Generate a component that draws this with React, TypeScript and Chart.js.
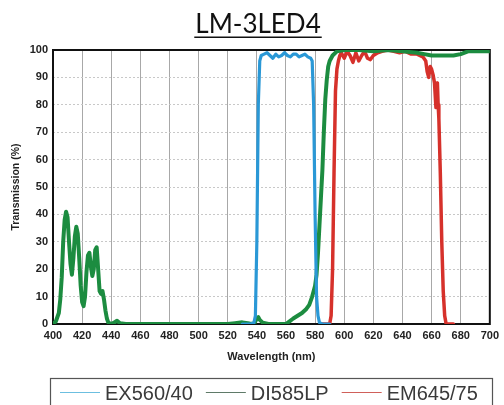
import React, { useEffect, useRef } from "react";
import { Chart, registerables } from "chart.js";

Chart.register(...registerables);

const chartTitle = "LM-3LED4";
const seriesNames = ["EX560/40", "DI585LP", "EM645/75"];
const xTitle = "Wavelength (nm)";
const yTitle = "Transmission (%)";

// EX560/40 (blue)
const exWl = [530, 536, 538, 539, 540, 541, 542, 543, 545, 547, 549, 551, 553, 555, 557, 559, 561, 563, 565, 567, 569, 571, 573, 575, 577, 578, 579, 580, 581, 582, 583, 585, 590];
const exT = [0, 0, 0.5, 3, 30, 80, 96, 98, 98.5, 99, 98, 97, 98.5, 97.5, 98, 99, 98, 97.5, 98.5, 98.5, 97.5, 98, 98.5, 97.5, 97, 96, 80, 40, 10, 3, 0.5, 0, 0];

// DI585LP (green)
const diWl = [400, 402, 404, 405, 406, 407, 408, 409, 410, 411, 412, 413, 414, 415, 416, 417, 418, 419, 420, 421, 422, 423, 424, 425, 426, 427, 428, 429, 430, 431, 432, 433, 434, 435, 436, 437, 438, 440, 442, 444, 446, 450, 480, 500, 520, 525, 530, 535, 538, 540, 541, 542, 544, 548, 560, 562, 565, 568, 571, 574, 576, 578, 580, 581, 582, 583, 584, 585, 586, 587, 588, 589, 590, 592, 595, 600, 610, 620, 630, 640, 650, 655, 660, 665, 670, 675, 680, 685, 690, 695, 700];
const diT = [0, 1, 4, 9, 17, 30, 38, 41, 39, 30, 22, 18, 24, 32, 35.5, 33, 24, 14, 8, 6.5, 10, 19, 25, 26, 21, 17.5, 20, 27, 28, 20, 12, 11, 12, 9, 5, 2, 0.5, 0, 0.5, 1.2, 0.3, 0, 0, 0, 0, 0.3, 0.6, 0.2, 0, 2, 2.5, 1.5, 0.5, 0, 0, 0.8, 2, 3, 4, 5.5, 7, 10, 14, 18, 26, 36, 46, 56, 70, 82, 89, 94, 96, 98, 99.5, 100, 100, 99.5, 100, 99.5, 99, 98.5, 98, 98, 98, 98, 98.5, 99.5, 99.5, 99.5, 99.5];

// EM645/75 (red)
const emWl = [585, 590, 591, 592, 593, 594, 595, 596, 597, 598, 600, 602, 604, 606, 608, 610, 612, 614, 616, 618, 620, 623, 626, 630, 634, 638, 642, 646, 650, 654, 656, 657, 658, 659, 660, 661, 662, 663, 663.5, 664, 664.5, 665, 666, 667, 668, 669, 670, 675];
const emT = [0, 0, 3, 20, 55, 85, 93, 96, 98, 99, 97, 99.5, 98, 95.5, 99, 96, 98, 99.5, 97, 96.5, 98, 99, 99.5, 100, 99.5, 99, 99.5, 98.5, 98.5, 97.5, 96, 92, 90, 94, 93, 91, 88, 79, 85, 88, 80, 75, 55, 30, 12, 3, 0, 0];

const lineColors = ["#2a98d6", "#1c8c40", "#d6312b"];
const legendColors = ["#6cbfe0", "#5f7a68", "#d0605a"];

const toPts = (xs: number[], ys: number[]) => xs.map((x, i) => ({ x, y: ys[i] }));

const framePlugin = {
  id: "frame",
  beforeDatasetsDraw(chart: any) {
    const { ctx, chartArea } = chart;
    const { left, top, right, bottom } = chartArea;
    ctx.save();
    ctx.strokeStyle = "#111";
    ctx.lineWidth = 2;
    ctx.strokeRect(left, top, right - left, bottom - top);
    ctx.restore();
  },
};

const titlePlugin = {
  id: "ulTitle",
  afterDraw(chart: any) {
    const { ctx } = chart;
    ctx.save();
    ctx.font = "26px Lato, 'Open Sans', sans-serif";
    ctx.fillStyle = "#111";
    ctx.textAlign = "center";
    ctx.textBaseline = "alphabetic";
    const cx = 258;
    ctx.fillText(chartTitle, cx, 33);
    const w = ctx.measureText(chartTitle).width;
    ctx.fillRect(cx - w / 2 - 1, 36.5, w + 2, 1.5);
    ctx.restore();
  },
};

const legendPlugin = {
  id: "boxLegend",
  afterDraw(chart: any) {
    const { ctx } = chart;
    ctx.save();
    ctx.strokeStyle = "#555";
    ctx.lineWidth = 1.2;
    ctx.strokeRect(50.5, 378.5, 442, 40);
    ctx.font = "20px 'Liberation Sans', Arial, sans-serif";
    ctx.textBaseline = "alphabetic";
    ctx.textAlign = "left";
    let x = 60;
    chart.data.datasets.forEach((ds: any, i: number) => {
      ctx.strokeStyle = legendColors[i];
      ctx.lineWidth = 1;
      ctx.beginPath();
      ctx.moveTo(x, 392.5);
      ctx.lineTo(x + 40, 392.5);
      ctx.stroke();
      x += 45;
      ctx.fillStyle = "#3a3a3a";
      ctx.fillText(ds.label, x, 400);
      x += ctx.measureText(ds.label).width + 13;
    });
    ctx.restore();
  },
};

export default function App() {
  const ref = useRef<HTMLCanvasElement>(null);
  useEffect(() => {
    document.body.style.margin = "0";
    if (!ref.current) return;
    const tickFont = { family: "'Liberation Sans', Arial, sans-serif", size: 11, weight: "bold" as const };
    const chart = new Chart(ref.current, {
      type: "line",
      data: {
        datasets: [
          { label: seriesNames[0], data: toPts(exWl, exT), borderColor: lineColors[0], borderWidth: 3.2 },
          { label: seriesNames[1], data: toPts(diWl, diT), borderColor: lineColors[1], borderWidth: 4 },
          { label: seriesNames[2], data: toPts(emWl, emT), borderColor: lineColors[2], borderWidth: 3.5 },
        ],
      },
      options: {
        responsive: false,
        animation: false,
        layout: { padding: { top: 50, left: 0, right: 14, bottom: 41 } },
        elements: { point: { radius: 0 }, line: { tension: 0, borderCapStyle: "round", borderJoinStyle: "round" } },
        plugins: { legend: { display: false }, title: { display: false }, tooltip: { enabled: false } },
        scales: {
          x: {
            type: "linear",
            min: 400,
            max: 700,
            ticks: { stepSize: 20, color: "#222", font: tickFont, padding: 5, maxRotation: 0, autoSkip: false },
            grid: { color: "#a8a8a8", lineWidth: 1, drawTicks: false },
            border: { display: false },
            title: { display: true, text: xTitle, color: "#222", font: tickFont, padding: { top: 0, bottom: 0 } },
            afterFit: (s: any) => { s.height = 40; },
          },
          y: {
            min: 0,
            max: 100,
            ticks: { stepSize: 10, color: "#222", font: tickFont, padding: 5 },
            grid: { color: "#c8c8c8", lineWidth: 1, drawTicks: false },
            border: { display: false, dash: [2, 2] },
            title: { display: true, text: yTitle, color: "#222", font: { ...tickFont, size: 10.5 }, padding: { top: 10, bottom: 0 } },
            afterFit: (s: any) => { s.width = 53; },
          },
        },
      },
      plugins: [framePlugin, titlePlugin, legendPlugin],
    });
    return () => chart.destroy();
  }, []);
  return (
    <div style={{ width: 504, height: 405 }}>
      <canvas ref={ref} width={504} height={405} />
    </div>
  );
}
